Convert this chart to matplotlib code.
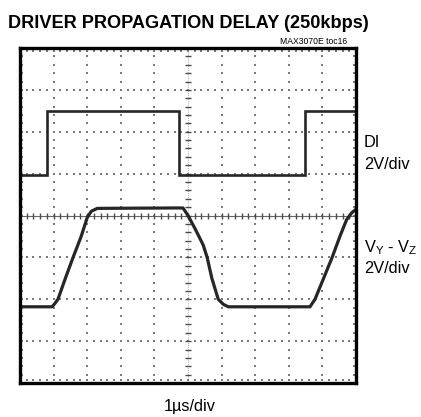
import numpy as np
import matplotlib
matplotlib.use('Agg')
import matplotlib.pyplot as plt

plt.rcParams['font.family'] = ['Liberation Sans', 'DejaVu Sans']
plt.rcParams['mathtext.fontset'] = 'custom'
plt.rcParams['mathtext.rm'] = 'Liberation Sans'

# screen divisions: 10 across, 8 down
di_x = [0, 0.79, 0.79, 4.73, 4.73, 8.48, 8.48, 10]
di_y = [4.97, 4.97, 6.5, 6.5, 4.97, 4.97, 6.5, 6.5]

vyz_x = [0, 0.95, 1.02, 1.13, 1.35, 1.58, 1.82, 2.0, 2.12, 2.3, 4.6, 4.85, 5.0, 5.2,
         5.45, 5.57, 5.71, 5.9, 6.05, 6.2, 8.5, 8.63, 8.78, 9.0, 9.29, 9.52, 9.72, 9.88, 10]
vyz_y = [1.82, 1.82, 1.88, 2.0, 2.5, 3.0, 3.5, 3.95, 4.1, 4.17, 4.18, 4.18, 4.0, 3.7,
         3.3, 3.0, 2.5, 2.0, 1.88, 1.82, 1.82, 1.82, 2.0, 2.43, 3.0, 3.5, 3.9, 4.07, 4.15]

W, H = 421, 417
fig = plt.figure(figsize=(W / 100, H / 100), dpi=100)
ax = fig.add_axes([20 / W, (H - 383) / H, 336 / W, 335 / H])
ax.set_xlim(0, 10)
ax.set_ylim(0, 8)
ax.set_xticks([])
ax.set_yticks([])
for s in ax.spines.values():
	s.set_linewidth(2.4)
	s.set_color('black')

gc = '#7a7a7a'
# dotted graticule
minor_x = np.arange(0, 10.01, 0.2)
minor_y = np.arange(0, 8.01, 0.2)
for gx in range(1, 10):
	if gx == 5:
		continue
	ax.plot(np.full(len(minor_y), gx), minor_y, ls='none', marker='s', ms=1.5, mew=0, color=gc)
for gy in range(1, 8):
	if gy == 4:
		continue
	ax.plot(minor_x, np.full(len(minor_x), gy), ls='none', marker='s', ms=1.5, mew=0, color=gc)
# edge dots
ax.plot(minor_x, np.full(len(minor_x), 7.93), ls='none', marker='s', ms=1.5, mew=0, color=gc)
ax.plot(minor_x, np.full(len(minor_x), 0.07), ls='none', marker='s', ms=1.5, mew=0, color=gc)
ax.plot(np.full(len(minor_y), 0.06), minor_y, ls='none', marker='s', ms=1.5, mew=0, color=gc)
ax.plot(np.full(len(minor_y), 9.94), minor_y, ls='none', marker='s', ms=1.5, mew=0, color=gc)

# centre axes with ticks
ax.axhline(4, color='#666666', lw=0.8)
ax.plot(minor_x, np.full(len(minor_x), 4), ls='none', marker='|', ms=5, mew=1.0, color='#4a4a4a')
ax.axvline(5, color='#999999', lw=0.6, ls=(0, (1, 1.5)))
ax.plot(np.full(len(minor_y), 5), minor_y, ls='none', marker='_', ms=5, mew=1.0, color='#4a4a4a')

# traces
ax.plot(di_x, di_y, color='#262626', lw=1.9, solid_joinstyle='miter')
ax.plot(vyz_x, vyz_y, color='#262626', lw=2.3)

fig.text(8 / W, (H - 28) / H, 'DRIVER PROPAGATION DELAY (250kbps)', fontsize=13.1,
	fontweight='bold', va='baseline', ha='left')
fig.text(347 / W, (H - 44) / H, 'MAX3070E toc16', fontsize=6.2, va='baseline', ha='right')
fig.text(364 / W, (H - 147) / H, 'DI', fontsize=11.8, va='baseline')
fig.text(364 / W, (H - 169) / H, '2V/div', fontsize=11.8, va='baseline')
fig.text(364 / W, (H - 252) / H, r'V$_\mathregular{Y}$ - V$_\mathregular{Z}$', fontsize=11.8, va='baseline')
fig.text(364 / W, (H - 273) / H, '2V/div', fontsize=11.8, va='baseline')
fig.text(190 / W, (H - 411) / H, '1µs/div', fontsize=11.8, va='baseline', ha='center')

fig.savefig('out.png', dpi=100)
